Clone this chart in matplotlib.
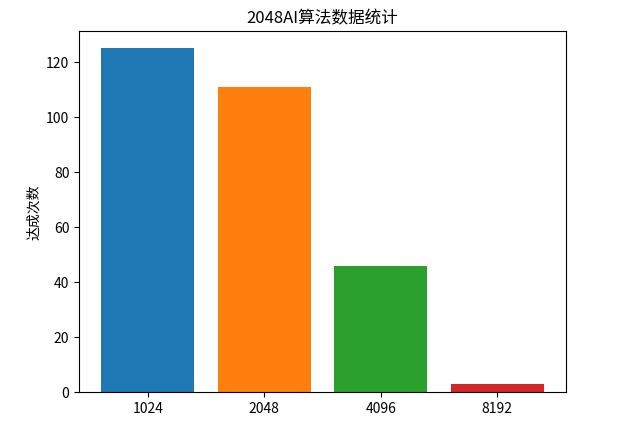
import matplotlib
matplotlib.use("Agg")
import matplotlib.pyplot as plt

# scores reached by the 2048 AI
labels = ['1024', '2048', '4096', '8192']
counts = [125, 111, 46, 3]
colors = ['#1f77b4', '#ff7f0e', '#2ca02c', '#d62728']

plt.rcParams['font.family'] = ['Noto Sans CJK SC', 'DejaVu Sans']

fig = plt.figure(figsize=(6.28, 4.45), dpi=100)
ax = fig.add_axes([0.126, 0.118, 0.775, 0.812])
ax.bar(labels, counts, color=colors)
ax.set_ylabel('达成次数')
ax.set_title('2048AI算法数据统计')

fig.savefig('out.png', dpi=100)
